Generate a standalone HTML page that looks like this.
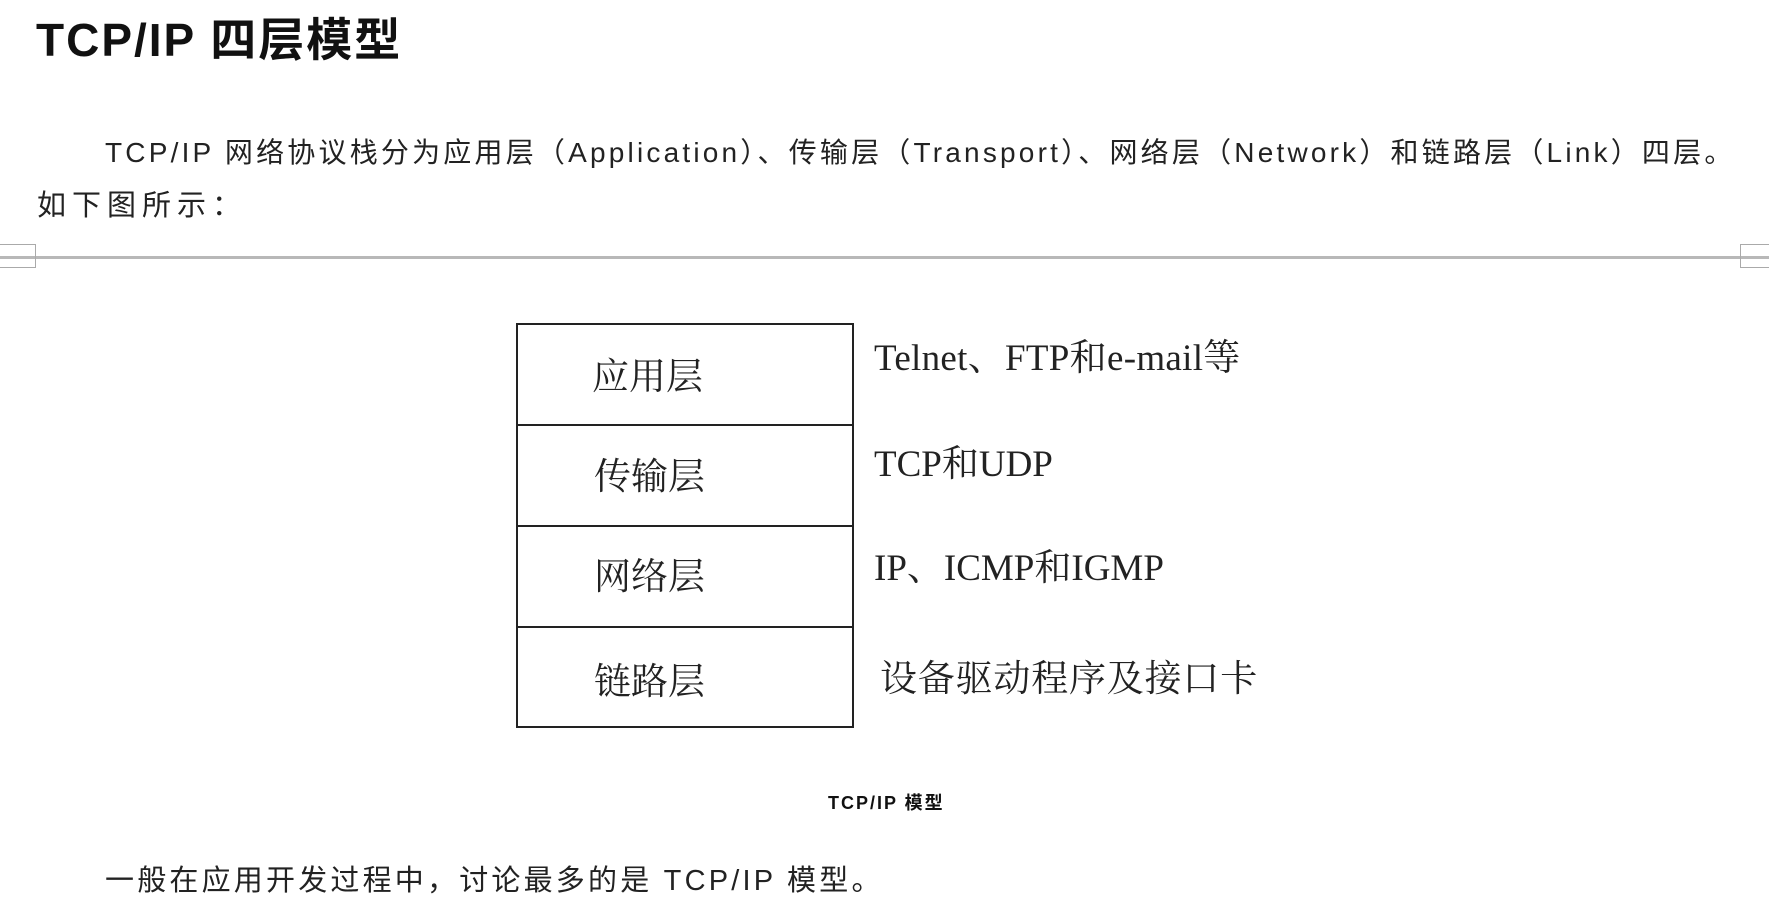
<!DOCTYPE html>
<html><head><meta charset="utf-8"><style>
body{margin:0;width:1769px;height:913px;background:#fff;position:relative;overflow:hidden;font-family:"Liberation Sans","Noto Sans CJK SC",sans-serif;color:#111}
.a{position:absolute;white-space:nowrap}
.s{font-family:"Liberation Serif","Noto Serif CJK SC",serif;font-size:37px;color:#222}
.box{position:absolute;left:516px;width:338px;border:2px solid #222;box-sizing:border-box}
</style></head><body>
<div class="a" style="left:36px;top:4px;font-size:46px;font-weight:bold;letter-spacing:2px">TCP/IP 四层模型</div>
<div class="a" style="left:105px;top:131px;font-size:28px;letter-spacing:3.2px;color:#222">TCP/IP 网络协议栈分为应用层（Application）、传输层（Transport）、网络层（Network）和链路层（Link）四层。</div>
<div class="a" style="left:37px;top:182px;font-size:29px;letter-spacing:6px;color:#222">如下图所示：</div>
<div class="a" style="left:0;top:256px;width:1769px;height:3px;background:#b8b8b8"></div>
<div class="a" style="left:0;top:244px;width:36px;height:24px;border:1px solid #aaa;border-left:none;box-sizing:border-box"></div>
<div class="a" style="left:1740px;top:244px;width:29px;height:24px;border:1px solid #aaa;border-right:none;box-sizing:border-box"></div>
<div class="box" style="top:323px;height:405px"></div>
<div class="a" style="left:516px;top:424px;width:338px;height:2px;background:#222"></div>
<div class="a" style="left:516px;top:525px;width:338px;height:2px;background:#222"></div>
<div class="a" style="left:516px;top:626px;width:338px;height:2px;background:#222"></div>
<div class="a s" style="left:592px;top:346px">应用层</div>
<div class="a s" style="left:594px;top:446px">传输层</div>
<div class="a s" style="left:594px;top:546px">网络层</div>
<div class="a s" style="left:594px;top:651px">链路层</div>
<div class="a s" style="left:874px;top:327px;letter-spacing:0.3px">Telnet、FTP和e-mail等</div>
<div class="a s" style="left:874px;top:433px">TCP和UDP</div>
<div class="a s" style="left:874px;top:537px">IP、ICMP和IGMP</div>
<div class="a s" style="left:880px;top:648px;letter-spacing:0.8px">设备驱动程序及接口卡</div>
<div class="a" style="left:828px;top:789px;font-size:18px;font-weight:bold;letter-spacing:2px">TCP/IP 模型</div>
<div class="a" style="left:105px;top:857px;font-size:29px;letter-spacing:3.2px;color:#222">一般在应用开发过程中，讨论最多的是 TCP/IP 模型。</div>
</body></html>
